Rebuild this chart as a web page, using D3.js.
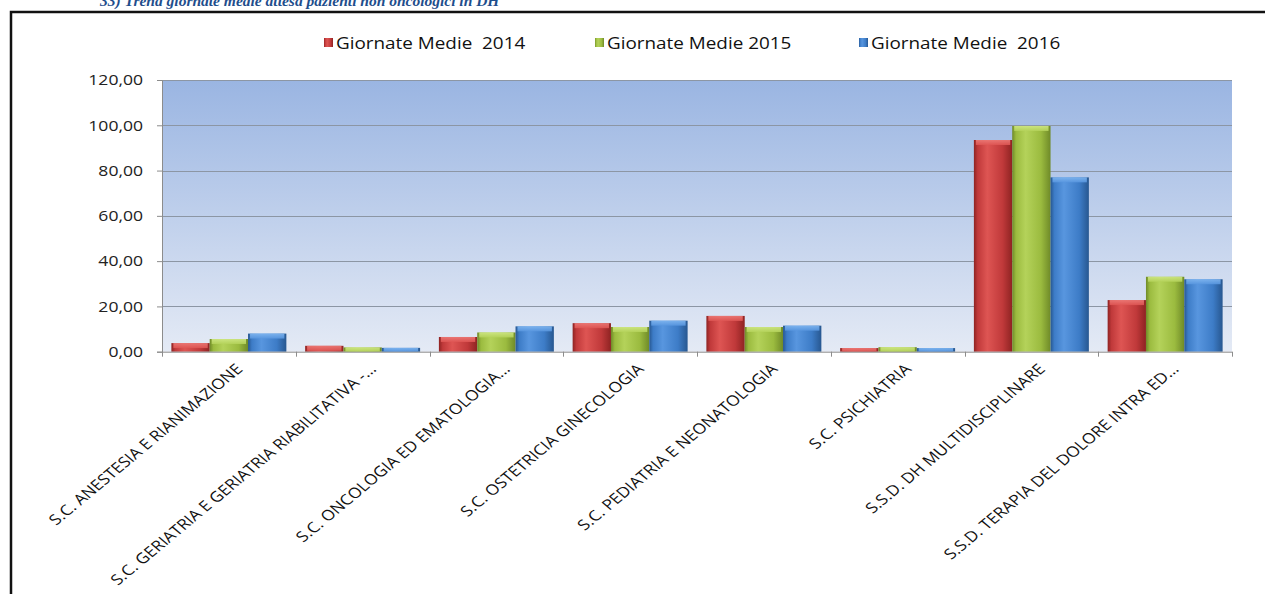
<!DOCTYPE html>
<html><head><meta charset="utf-8">
<script src="https://cdn.jsdelivr.net/npm/d3@7"></script>
<style>
html,body{margin:0;padding:0;background:#fff;}
svg{display:block;}
</style></head>
<body>
<script>
const categories = [
  "S.C. ANESTESIA E RIANIMAZIONE",
  "S.C. GERIATRIA E GERIATRIA RIABILITATIVA -...",
  "S.C. ONCOLOGIA ED EMATOLOGIA...",
  "S.C. OSTETRICIA GINECOLOGIA",
  "S.C. PEDIATRIA E NEONATOLOGIA",
  "S.C. PSICHIATRIA",
  "S.S.D. DH MULTIDISCIPLINARE",
  "S.S.D. TERAPIA DEL DOLORE INTRA ED..."
];
const seriesNames = ["Giornate Medie  2014", "Giornate Medie 2015", "Giornate Medie  2016"];
const values2014 = [3.8, 2.6, 6.5, 12.6, 15.8, 1.6, 93.5, 22.8];
const values2015 = [5.6, 1.9, 8.5, 10.9, 10.9, 2.0, 99.7, 33.1];
const values2016 = [8.0, 1.7, 11.2, 13.7, 11.5, 1.6, 77.0, 32.0];
const yTicks = [0, 20, 40, 60, 80, 100, 120];
const title = "33) Trend giornate medie attesa pazienti non oncologici in DH";

const W = 1265, H = 594;
const svg = d3.select("body").append("svg").attr("width", W).attr("height", H);
const defs = svg.append("defs");

const bg = defs.append("linearGradient").attr("id","bg").attr("x1",0).attr("y1",0).attr("x2",0).attr("y2",1);
bg.append("stop").attr("offset","0%").attr("stop-color","#9ab5e2");
bg.append("stop").attr("offset","100%").attr("stop-color","#e4eaf5");

const palette = [
  {base:"#c0393a", light:"#de5553", dark:"#8e2322", top:"#ec7a77"},
  {base:"#9bbb3f", light:"#b4d25a", dark:"#6f8a28", top:"#cfe784"},
  {base:"#3d7cc7", light:"#5896df", dark:"#275790", top:"#80b6f0"}
];
palette.forEach((p,i)=>{
  const g = defs.append("linearGradient").attr("id","bar"+i).attr("x1",0).attr("y1",0).attr("x2",1).attr("y2",0);
  g.append("stop").attr("offset","0%").attr("stop-color",p.dark);
  g.append("stop").attr("offset","10%").attr("stop-color",p.base);
  g.append("stop").attr("offset","35%").attr("stop-color",p.light);
  g.append("stop").attr("offset","75%").attr("stop-color",p.base);
  g.append("stop").attr("offset","100%").attr("stop-color",p.dark);
  const t = defs.append("linearGradient").attr("id","top"+i).attr("x1",0).attr("y1",0).attr("x2",0).attr("y2",1);
  t.append("stop").attr("offset","0%").attr("stop-color",p.top);
  t.append("stop").attr("offset","100%").attr("stop-color",p.light);
});

// title (partially cut off at top, as in the reference)
svg.append("text").attr("x",100).attr("y",6)
  .attr("font-family","Liberation Serif, serif").attr("font-weight","bold").attr("font-style","italic")
  .attr("font-size",15.5).attr("fill","#1f4e8c").text(title);

// frame
svg.append("rect").attr("x",11).attr("y",12).attr("width",W+20).attr("height",H+20)
  .attr("fill","none").attr("stroke","#111").attr("stroke-width",2.5);

const plot = {left:162, top:80, right:1232, bottom:351.7};
const x = d3.scaleBand().domain(categories).range([plot.left, plot.right]).paddingInner(0).paddingOuter(0);
const xs = d3.scaleBand().domain([0,1,2]).range([0, x.bandwidth()]).paddingInner(0).paddingOuter(0.245);
const y = d3.scaleLinear().domain([0,120]).range([plot.bottom, plot.top]);

svg.append("rect").attr("x",plot.left).attr("y",plot.top)
  .attr("width",plot.right-plot.left).attr("height",plot.bottom-plot.top).attr("fill","url(#bg)");

svg.append("g").selectAll("line").data(yTicks.filter(d=>d>0)).join("line")
  .attr("x1",plot.left).attr("x2",plot.right)
  .attr("y1",d=>Math.round(y(d))+0.5).attr("y2",d=>Math.round(y(d))+0.5)
  .attr("stroke","#8c96a4").attr("stroke-width",1);

// y axis
const yAxis = svg.append("g").attr("transform",`translate(${plot.left},0)`)
  .call(d3.axisLeft(y).tickValues(yTicks).tickSize(5).tickPadding(14)
    .tickFormat(d=>d3.format(".2f")(d).replace(".",",")));
yAxis.select(".domain").attr("stroke","#8c8c8c");
yAxis.selectAll(".tick line").attr("stroke","#8c8c8c");
yAxis.selectAll(".tick text")
  .attr("font-family","Open Sans, sans-serif").attr("font-size",15).attr("fill","#222")
  .attr("x",null).attr("transform","translate(-19,0) scale(1.17,1)");

// bars
const series = [values2014, values2015, values2016];
series.forEach((vals,si)=>{
  const g = svg.append("g");
  const bw = xs.bandwidth();
  const data = categories.map((c,i)=>({c, v:vals[i]}));
  g.selectAll("rect.b").data(data).join("rect").attr("class","b")
    .attr("x",d=>x(d.c)+xs(si)).attr("width",bw)
    .attr("y",d=>y(d.v)).attr("height",d=>plot.bottom-y(d.v))
    .attr("fill",`url(#bar${si})`);
  g.selectAll("rect.t").data(data).join("rect").attr("class","t")
    .attr("x",d=>x(d.c)+xs(si)+2).attr("width",bw-4)
    .attr("y",d=>y(d.v)).attr("height",d=>Math.min(5, plot.bottom-y(d.v)))
    .attr("fill",`url(#top${si})`).attr("opacity",0.9);
});

// x axis
const xAxis = svg.append("g").attr("transform",`translate(0,${plot.bottom})`);
xAxis.append("line").attr("x1",plot.left).attr("x2",plot.right).attr("y1",0.5).attr("y2",0.5).attr("stroke","#8c8c8c");
const bounds = categories.map(c=>x(c)).concat([plot.right]);
xAxis.selectAll("line.tk").data(bounds).join("line").attr("class","tk")
  .attr("x1",d=>Math.round(d)+0.5).attr("x2",d=>Math.round(d)+0.5).attr("y1",0).attr("y2",5).attr("stroke","#8c8c8c");
xAxis.selectAll("text").data(categories).join("text")
  .attr("transform",d=>`translate(${x(d)+x.bandwidth()/2+6},${11}) scale(1.2,1) rotate(-45)`)
  .attr("text-anchor","end").attr("dy","0.7em")
  .attr("font-family","Open Sans, sans-serif").attr("font-size",14.6).attr("fill","#111")
  .text(d=>d);

// legend
const legX = [324, 595, 859];
const leg = svg.append("g");
seriesNames.forEach((n,i)=>{
  leg.append("rect").attr("x",legX[i]).attr("y",38).attr("width",9).attr("height",9).attr("fill",`url(#bar${i})`);
  leg.append("text").attr("transform",`translate(${legX[i]+12},48.5) scale(1.18,1)`)
    .attr("xml:space","preserve").style("white-space","pre")
    .attr("font-family","Open Sans, sans-serif").attr("font-size",16).attr("fill","#111").text(n);
});
</script>
</body></html>
